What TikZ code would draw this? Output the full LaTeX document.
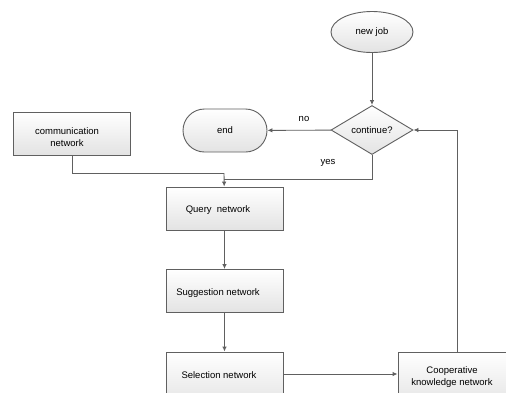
\documentclass[tikz,border=0pt]{standalone}
\usepackage{fontspec}
\setmainfont{Liberation Sans}
\usetikzlibrary{shapes.geometric,shapes.misc,arrows.meta}
\definecolor{ln}{HTML}{606060}
\tikzset{
  x=1pt,y=-1pt,
  every node/.style={font=\fontsize{9.5}{11.5}\selectfont, text=black},
  base/.style={draw=ln, line width=0.9pt, top color=white, bottom color=gray!22, inner sep=0pt},
  box/.style={base, rectangle, minimum width=117pt, minimum height=43pt, align=center},
  conn/.style={draw=ln, line width=0.9pt, -{Latex[length=5pt,width=4.5pt]}},
  plain/.style={draw=ln, line width=0.9pt},
  lbl/.style={inner sep=0pt}
}
\begin{document}
\begin{tikzpicture}
\useasboundingbox (0,0) rectangle (506,392);
\clip (0,0) rectangle (506,392);
\fill[white] (0,0) rectangle (506,392);
\node[base, ellipse, minimum width=82pt, minimum height=41pt] (new) at (372,32) {new job};
\node[base, diamond, minimum width=82pt, minimum height=49pt, aspect=1.67] (cont) at (372,130) {continue?};
\node[base, rounded rectangle, minimum width=84pt, minimum height=43pt] (end) at (225,130.5) {end};
\node[box] (comm) at (71.5,133.5) {};
\node[lbl, align=center] (commt) at (67,137) {communication\\network};
\node[box] (query) at (224.5,208.5) {};
\node[lbl] (queryt) at (218,210) {Query\ \ network};
\node[box] (sugg) at (224.5,291) {};
\node[lbl] (suggt) at (218,293) {Suggestion network};
\node[box, minimum height=56pt] (sel) at (224.5,380) {};
\node[lbl] (selt) at (219,375) {Selection network};
\node[box, minimum width=112pt, minimum height=56pt] (coop) at (454,380) {};
\node[lbl, align=center] (coopt) at (452,377) {Cooperative\\knowledge network};
\node[lbl] (no) at (304,119) {no};
\node[lbl] (yes) at (328,163) {yes};
\coordinate (m) at (224,173);
\coordinate (y) at (224,179);
\draw[conn] (new) -- (cont);
\draw[conn] (cont) -- (end);
\draw[plain] (cont.south) |- (y);
\draw[plain] (comm.south -| 72,0) |- (m);
\draw[conn] (m) -- (query);
\draw[conn] (query) -- (sugg);
\draw[conn] (sugg) -- (sel);
\draw[conn] (sel.east |- 0,374) -- (coop.west |- 0,374);
\draw[conn] (coop.north -| 457,0) |- (cont.east);
\end{tikzpicture}
\end{document}
